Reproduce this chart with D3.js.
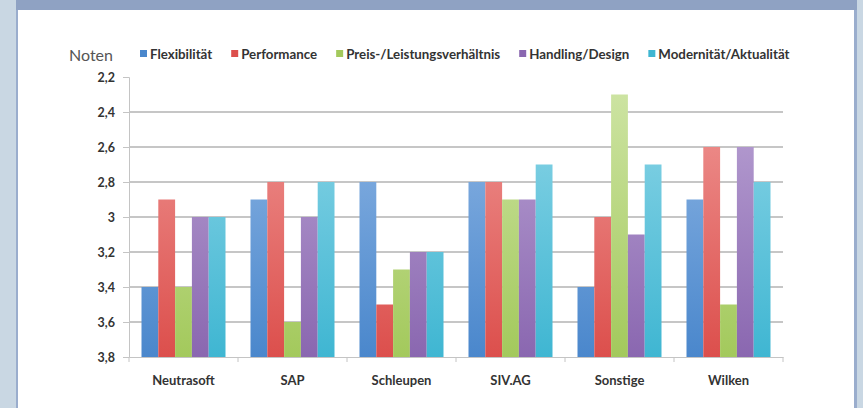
<!DOCTYPE html>
<html>
  <head>
    <meta charset="utf-8" />
    <title>Noten</title>
    <script src="https://d3js.org/d3.v7.min.js"></script>
    <style>
      body { margin: 0; }
      text { font-family: Lato, "Open Sans", sans-serif; }
      .tick-label { font-size: 12.5px; font-weight: bold; fill: #333; }
      .cat-label { font-size: 13px; font-weight: bold; fill: #333; }
      .legend text { font-size: 13.3px; font-weight: bold; fill: #333; }
    </style>
  </head>
  <body>
    <svg width="863" height="408"></svg>
    <script>
      // Daten
      const vendors = ["Neutrasoft", "SAP", "Schleupen", "SIV.AG", "Sonstige", "Wilken"];
      const criteria = ["Flexibilität", "Performance", "Preis-/Leistungsverhältnis", "Handling/Design", "Modernität/Aktualität"];
      const flexibilitaet = [3.4, 2.9, 2.8, 2.8, 3.4, 2.9];
      const performance = [2.9, 2.8, 3.5, 2.8, 3.0, 2.6];
      const preisLeistung = [3.4, 3.6, 3.3, 2.9, 2.3, 3.5];
      const handling = [3.0, 3.0, 3.2, 2.9, 3.1, 2.6];
      const modernitaet = [3.0, 2.8, 3.2, 2.7, 2.7, 2.8];
      const yTicks = [2.2, 2.4, 2.6, 2.8, 3, 3.2, 3.4, 3.6, 3.8];

      const series = [flexibilitaet, performance, preisLeistung, handling, modernitaet];
      const colors = ["#4a87cc", "#dc4f4c", "#a3c95c", "#8a67b0", "#3fb6d2"];
      const lightColors = ["#93b9e6", "#f09a98", "#cfe5a6", "#bca6d6", "#92d7e8"];

      const svg = d3.select("svg");

      // Rahmen
      svg.append("rect").attr("width", 863).attr("height", 408).attr("fill", "#c9d7e3");
      svg.append("rect").attr("x", 16).attr("width", 841).attr("height", 408).attr("fill", "#9aadcd");
      svg.append("rect").attr("x", 18).attr("y", 10).attr("width", 836).attr("height", 398).attr("fill", "#fff");
      svg.append("rect").attr("x", 16).attr("width", 841).attr("height", 10).attr("fill", "#8fa2c3");

      const margin = { left: 129, right: 783, top: 77, bottom: 357 };

      const x = d3.scaleBand().domain(vendors).range([margin.left, margin.right]);
      const xInner = d3
        .scaleBand()
        .domain(criteria)
        .range([12.5, x.bandwidth() - 12.5]);
      const y = d3.scaleLinear().domain([2.2, 3.8]).range([margin.top, margin.bottom]);

      // Verläufe (oben heller)
      const defs = svg.append("defs");
      criteria.forEach((c, i) => {
        const g = defs
          .append("linearGradient")
          .attr("id", "grad" + i)
          .attr("gradientUnits", "userSpaceOnUse")
          .attr("x1", 0).attr("y1", margin.top).attr("x2", 0).attr("y2", margin.bottom);
        g.append("stop").attr("offset", "0%").attr("stop-color", lightColors[i]);
        g.append("stop").attr("offset", "100%").attr("stop-color", colors[i]);
      });

      // Gitterlinien
      svg
        .append("g")
        .selectAll("line")
        .data(yTicks.filter((t) => t > 2.2 && t < 3.8))
        .join("line")
        .attr("x1", margin.left)
        .attr("x2", margin.right)
        .attr("y1", (d) => y(d))
        .attr("y2", (d) => y(d))
        .attr("stroke", "#b3b3b3")
        .attr("stroke-width", 1.3);

      // y-Achse
      const yAxis = svg
        .append("g")
        .attr("transform", `translate(${margin.left},0)`)
        .call(
          d3.axisLeft(y)
            .tickValues(yTicks)
            .tickSize(6)
            .tickPadding(8)
            .tickFormat((d) => String(+d.toFixed(1)).replace(".", ","))
        );
      yAxis.select(".domain").attr("stroke", "#c4c4c4");
      yAxis.selectAll(".tick line").attr("stroke", "#c4c4c4");
      yAxis.selectAll(".tick text").attr("class", "tick-label").attr("font-family", null).attr("font-size", null);

      // Balken
      const groups = svg
        .append("g")
        .selectAll("g")
        .data(vendors)
        .join("g")
        .attr("transform", (d) => `translate(${x(d)},0)`);

      groups
        .selectAll("rect")
        .data((d, vi) => criteria.map((c, ci) => ({ c, ci, v: series[ci][vi] })))
        .join("rect")
        .attr("x", (d) => xInner(d.c))
        .attr("width", xInner.bandwidth())
        .attr("y", (d) => y(d.v))
        .attr("height", (d) => y(3.8) - y(d.v))
        .attr("fill", (d) => `url(#grad${d.ci})`);

      // x-Achse
      const xAxis = svg
        .append("g")
        .attr("transform", `translate(0,${margin.bottom})`)
        .call(d3.axisBottom(x).tickSize(0).tickPadding(19));
      xAxis.select(".domain").attr("stroke", "#c4c4c4");
      xAxis.selectAll(".tick text").attr("class", "cat-label").attr("font-family", null).attr("font-size", null);
      svg
        .append("g")
        .selectAll("line")
        .data(d3.range(vendors.length + 1))
        .join("line")
        .attr("x1", (i) => margin.left + i * x.step())
        .attr("x2", (i) => margin.left + i * x.step())
        .attr("y1", margin.bottom)
        .attr("y2", margin.bottom + 5)
        .attr("stroke", "#c4c4c4");

      // Legende
      svg
        .append("text")
        .attr("x", 69)
        .attr("y", 61)
        .attr("font-size", 16)
        .attr("fill", "#555")
        .text("Noten");

      const legend = svg.append("g").attr("class", "legend");
      let lx = 140;
      criteria.forEach((c, i) => {
        legend
          .append("rect")
          .attr("x", lx)
          .attr("y", 50)
          .attr("width", 7)
          .attr("height", 7)
          .attr("fill", colors[i]);
        const t = legend
          .append("text")
          .attr("x", lx + 10)
          .attr("y", 59)
          .text(c);
        lx += 10 + t.node().getComputedTextLength() + 19;
      });
    </script>
  </body>
</html>
